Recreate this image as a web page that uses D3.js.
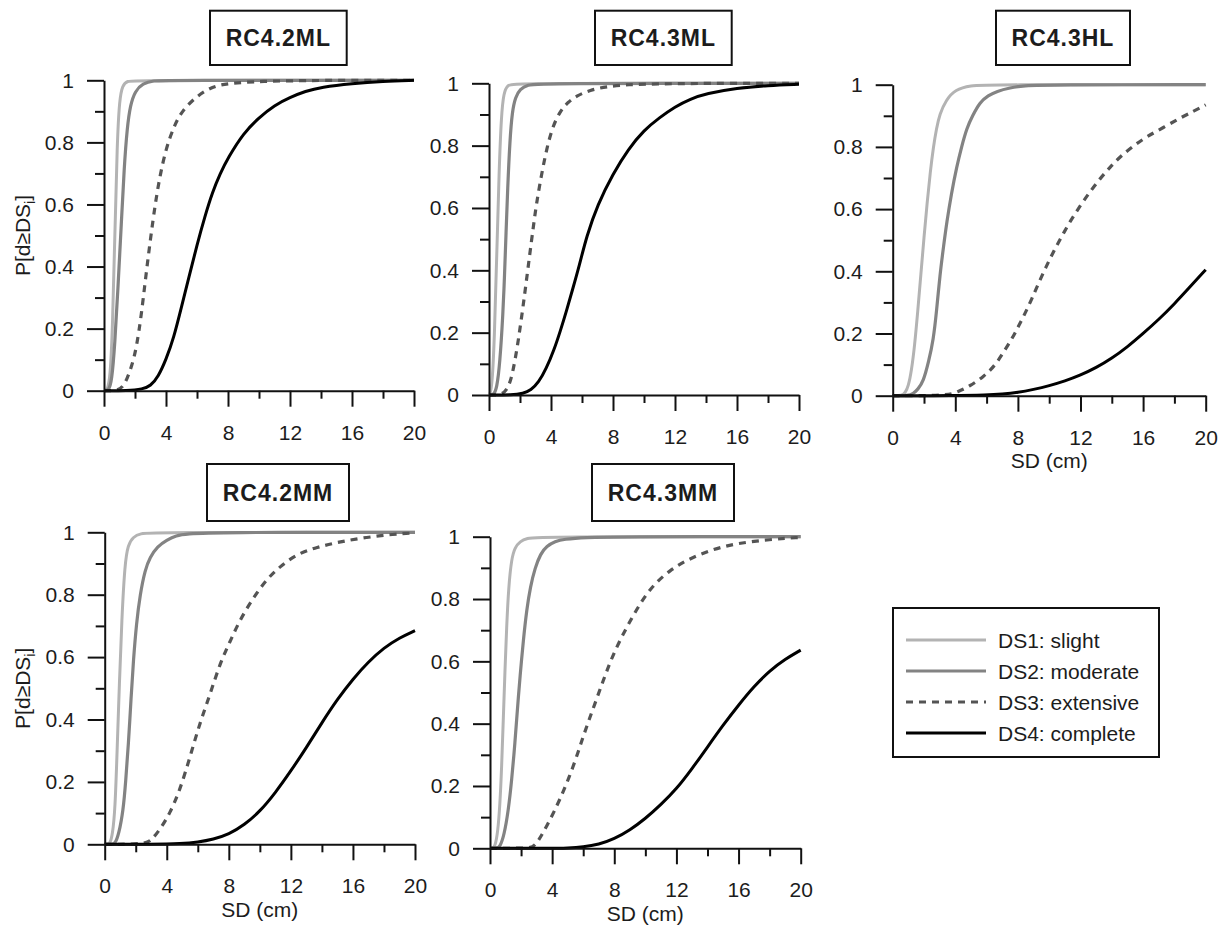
<!DOCTYPE html>
<html>
<head>
<meta charset="utf-8">
<script src="https://cdn.jsdelivr.net/npm/d3@7"></script>
<style>
  html, body { margin: 0; padding: 0; background: #fff; }
  svg { display: block; font-family: "Liberation Sans", Arial, Helvetica, sans-serif; }
</style>
</head>
<body>
<svg id="chart" width="1226" height="929"></svg>
<script>
// ---- Data: fragility curves P[d >= DS_i] versus spectral displacement SD (cm) ----
const panelNames = ["RC4.2ML", "RC4.3ML", "RC4.3HL", "RC4.2MM", "RC4.3MM"];
const seriesNames = ["DS1: slight", "DS2: moderate", "DS3: extensive", "DS4: complete"];

const xMajorTicks = [0, 4, 8, 12, 16, 20];
const xMinorTicks = [2, 6, 10, 14, 18];
const yMajorTicks = [0, 0.2, 0.4, 0.6, 0.8, 1];
const yMinorTicks = [0.1, 0.3, 0.5, 0.7, 0.9];

// [SD (cm), probability] pairs for each damage state
const rc42ML_DS1 = [[0,0],[0.2,0],[0.4,0.04],[0.55,0.2],[0.7,0.5],[0.85,0.8],[1.0,0.94],[1.2,0.985],[1.5,0.998],[2,1],[20,1]];
const rc42ML_DS2 = [[0,0],[0.3,0],[0.5,0.03],[0.7,0.15],[0.9,0.33],[1.1,0.52],[1.3,0.72],[1.5,0.85],[1.7,0.92],[2.0,0.965],[2.5,0.99],[3.2,0.999],[4,1],[20,1]];
const rc42ML_DS3 = [[0,0],[0.8,0],[1.2,0.01],[1.5,0.04],[1.8,0.08],[2.1,0.14],[2.4,0.24],[2.7,0.37],[3.0,0.49],[3.3,0.6],[3.6,0.69],[4.0,0.78],[4.5,0.85],[5,0.9],[6,0.95],[7,0.98],[8,0.99],[10,0.997],[14,1],[20,1]];
const rc42ML_DS4 = [[0,0],[1.5,0],[2.5,0.005],[3,0.015],[3.5,0.045],[4,0.1],[4.5,0.17],[5,0.27],[5.5,0.37],[6,0.47],[6.5,0.56],[7,0.64],[7.5,0.7],[8,0.75],[9,0.83],[10,0.88],[11,0.92],[12,0.945],[13,0.965],[14,0.978],[16,0.99],[18,0.997],[20,1]];

const rc43ML_DS1 = [[0,0],[0.05,0],[0.2,0.03],[0.35,0.18],[0.5,0.45],[0.65,0.72],[0.8,0.9],[0.95,0.97],[1.2,0.995],[1.6,1],[20,1]];
const rc43ML_DS2 = [[0,0],[0.3,0],[0.5,0.02],[0.7,0.1],[0.9,0.26],[1.0,0.38],[1.1,0.52],[1.2,0.66],[1.35,0.82],[1.5,0.91],[1.7,0.955],[2.0,0.982],[2.5,0.995],[3.2,1],[20,1]];
const rc43ML_DS3 = [[0,0],[0.8,0],[1.14,0.016],[1.46,0.05],[1.89,0.17],[2.32,0.33],[2.6,0.44],[2.86,0.54],[3.08,0.62],[3.4,0.71],[3.72,0.79],[4.1,0.86],[4.58,0.91],[5.1,0.94],[5.66,0.96],[6.5,0.978],[7.6,0.99],[9,0.996],[10.6,0.998],[14,1],[20,1]];
const rc43ML_DS4 = [[0,0],[1.5,0],[2.2,0.005],[2.7,0.015],[3.2,0.04],[3.7,0.085],[4.2,0.145],[4.6,0.205],[5.0,0.27],[5.4,0.34],[5.8,0.41],[6.3,0.51],[7,0.61],[8,0.71],[9,0.79],[10,0.85],[11,0.89],[12,0.925],[13,0.95],[14,0.967],[16,0.985],[18,0.993],[20,0.997]];

const rc43HL_DS1 = [[0,0],[0.6,0],[0.8,0.01],[1.0,0.03],[1.2,0.08],[1.4,0.16],[1.6,0.27],[1.8,0.39],[2.0,0.51],[2.2,0.62],[2.4,0.72],[2.6,0.8],[2.8,0.86],[3.0,0.905],[3.4,0.95],[4.0,0.985],[5,0.997],[6,1],[20,1]];
const rc43HL_DS2 = [[0,0],[1.0,0],[1.32,0.007],[1.6,0.02],[1.96,0.045],[2.3,0.11],[2.6,0.18],[2.8,0.27],[3.02,0.39],[3.25,0.48],[3.45,0.556],[3.75,0.65],[4.09,0.736],[4.4,0.8],[4.73,0.86],[5.1,0.9],[5.58,0.944],[6.1,0.965],[6.65,0.979],[7.5,0.99],[8.35,0.997],[10,1],[20,1]];
const rc43HL_DS3 = [[0,0],[3.5,0],[4.13,0.012],[4.9,0.03],[5.79,0.06],[6.54,0.097],[7.07,0.139],[7.6,0.181],[8.03,0.222],[8.45,0.264],[8.88,0.31],[9.3,0.36],[9.78,0.412],[10.26,0.462],[10.8,0.512],[11.33,0.56],[11.97,0.61],[12.61,0.656],[13.25,0.698],[13.89,0.735],[14.52,0.768],[15.37,0.803],[16.23,0.833],[17.29,0.862],[18.36,0.893],[19.21,0.914],[20,0.935]];
const rc43HL_DS4 = [[0,0],[4,0],[6,0.002],[7,0.005],[8,0.01],[9,0.02],[10,0.032],[11,0.047],[12,0.066],[13,0.09],[14,0.12],[15,0.157],[16,0.2],[17,0.245],[18,0.295],[19,0.35],[20,0.405]];

const rc42MM_DS1 = [[0,0],[0.2,0],[0.34,0.003],[0.5,0.03],[0.67,0.11],[0.8,0.3],[0.95,0.52],[1.1,0.72],[1.3,0.9],[1.5,0.96],[1.85,0.986],[2.3,0.996],[3,1],[20,1]];
const rc42MM_DS2 = [[0,0],[0.5,0],[0.67,0.003],[0.9,0.03],[1.2,0.11],[1.35,0.2],[1.53,0.32],[1.7,0.47],[1.85,0.59],[2.05,0.71],[2.28,0.8],[2.6,0.88],[2.92,0.92],[3.4,0.955],[4.0,0.975],[4.6,0.99],[5.3,0.995],[7,1],[20,1]];
const rc42MM_DS3 = [[0,0],[2.6,0],[3.03,0.014],[3.6,0.05],[4.21,0.1],[4.85,0.174],[5.5,0.28],[6.14,0.39],[6.79,0.48],[7.43,0.58],[8.08,0.65],[8.72,0.72],[9.58,0.79],[10.44,0.85],[11.3,0.89],[12.37,0.93],[13.66,0.952],[15.17,0.97],[16.88,0.984],[18.6,0.994],[20,0.998]];
const rc42MM_DS4 = [[0,0],[3,0],[5,0.002],[6,0.007],[7,0.016],[8,0.032],[9,0.062],[10,0.105],[11,0.165],[12,0.235],[13,0.31],[14,0.39],[15,0.465],[16,0.53],[17,0.585],[18,0.63],[19,0.662],[20,0.685]];

const rc43MM_DS1 = [[0,0],[0.15,0],[0.32,0.005],[0.5,0.05],[0.64,0.14],[0.75,0.26],[0.86,0.42],[0.97,0.58],[1.07,0.71],[1.2,0.84],[1.39,0.93],[1.6,0.965],[1.93,0.985],[2.4,0.995],[3,1],[20,1]];
const rc43MM_DS2 = [[0,0],[0.45,0],[0.64,0.005],[0.9,0.04],[1.18,0.12],[1.4,0.22],[1.61,0.34],[1.77,0.45],[1.93,0.55],[2.15,0.67],[2.36,0.765],[2.6,0.84],[2.9,0.9],[3.25,0.945],[3.65,0.97],[4.2,0.985],[4.72,0.992],[6.2,0.998],[8,1],[20,1]];
const rc43MM_DS3 = [[0,0],[2.5,0],[2.9,0.005],[3.65,0.07],[4.5,0.155],[5.36,0.26],[6.0,0.36],[6.65,0.45],[7.3,0.54],[7.94,0.625],[8.8,0.71],[9.66,0.786],[10.5,0.845],[11.6,0.893],[12.66,0.925],[14.16,0.957],[15.88,0.979],[18.0,0.991],[20,0.998]];
const rc43MM_DS4 = [[0,0],[4,0],[5,0.001],[6,0.004],[7,0.012],[8,0.03],[9,0.058],[10,0.095],[11,0.14],[12,0.19],[13,0.255],[14,0.325],[15,0.395],[16,0.46],[17,0.52],[18,0.57],[19,0.607],[20,0.636]];

const panelSeries = [
  [rc42ML_DS1, rc42ML_DS2, rc42ML_DS3, rc42ML_DS4],
  [rc43ML_DS1, rc43ML_DS2, rc43ML_DS3, rc43ML_DS4],
  [rc43HL_DS1, rc43HL_DS2, rc43HL_DS3, rc43HL_DS4],
  [rc42MM_DS1, rc42MM_DS2, rc42MM_DS3, rc42MM_DS4],
  [rc43MM_DS1, rc43MM_DS2, rc43MM_DS3, rc43MM_DS4]
];

// ---- Layout and styles ----
const panelLayout = [
  { x0: 104,   x1: 414,    yTop: 80.3,  yBot: 390.7, box: [210, 10.7, 136.7, 54.3], ylab: true,  xlab: false },
  { x0: 489,   x1: 799,    yTop: 83.3,  yBot: 395,   box: [595, 10.7, 136.7, 54.3], ylab: false, xlab: false },
  { x0: 892.7, x1: 1205.7, yTop: 84.7,  yBot: 395.7, box: [996, 10.7, 134, 54.3],   ylab: false, xlab: true },
  { x0: 104.7, x1: 415,    yTop: 532.3, yBot: 844.3, box: [207, 464, 142, 57],      ylab: true,  xlab: true },
  { x0: 490,   x1: 800.7,  yTop: 536.7, yBot: 848.3, box: [592, 464, 142, 57],      ylab: false, xlab: true }
];

const seriesStyle = [
  { color: "#b3b3b3", width: 3,   dash: null },
  { color: "#838383", width: 3.2, dash: null },
  { color: "#545454", width: 3.2, dash: "7,6" },
  { color: "#000000", width: 3,   dash: null }
];

const textColor = "#1c1c1c";
const svg = d3.select("#chart");

const fmt = d => String(+d.toFixed(1));

panelLayout.forEach((L, i) => {
  const x = d3.scaleLinear().domain([0, 20]).range([L.x0, L.x1]);
  const y = d3.scaleLinear().domain([0, 1]).range([L.yBot, L.yTop]);
  const g = svg.append("g");

  // curves
  const line = d3.line()
    .x(d => x(d[0]))
    .y(d => y(d[1]))
    .curve(d3.curveBasis);

  panelSeries[i].forEach((pts, s) => {
    const st = seriesStyle[s];
    g.append("path")
      .datum(pts)
      .attr("d", line)
      .attr("fill", "none")
      .attr("stroke", st.color)
      .attr("stroke-width", st.width)
      .attr("stroke-dasharray", st.dash)
      .attr("stroke-linejoin", "round");
  });

  // y axis (major + minor)
  g.append("g")
    .attr("transform", `translate(${L.x0},0)`)
    .call(d3.axisLeft(y).tickValues(yMajorTicks).tickSize(17).tickSizeOuter(0).tickPadding(13).tickFormat(fmt));
  g.append("g")
    .attr("transform", `translate(${L.x0},0)`)
    .call(d3.axisLeft(y).tickValues(yMinorTicks).tickSize(9).tickSizeOuter(0).tickFormat(""))
    .select(".domain").remove();

  // x axis (major + minor)
  g.append("g")
    .attr("transform", `translate(0,${L.yBot})`)
    .call(d3.axisBottom(x).tickValues(xMajorTicks).tickSize(16).tickSizeOuter(0).tickPadding(18).tickFormat(d3.format("d")));
  g.append("g")
    .attr("transform", `translate(0,${L.yBot})`)
    .call(d3.axisBottom(x).tickValues(xMinorTicks).tickSize(8).tickSizeOuter(0).tickFormat(""))
    .select(".domain").remove();

  g.selectAll(".domain, .tick line")
    .attr("stroke", "#111")
    .attr("stroke-width", 2);
  g.selectAll(".tick text")
    .attr("fill", textColor)
    .style("font-size", "21px")
    .style("font-family", "'Liberation Sans', Arial, sans-serif");

  // panel title in a box
  const [bx, by, bw, bh] = L.box;
  g.append("rect")
    .attr("x", bx).attr("y", by).attr("width", bw).attr("height", bh)
    .attr("fill", "#fff").attr("stroke", "#111").attr("stroke-width", 2);
  g.append("text")
    .attr("x", bx + bw / 2).attr("y", by + bh / 2)
    .attr("dy", "0.36em")
    .attr("text-anchor", "middle")
    .attr("fill", textColor)
    .style("font-size", "23px")
    .style("font-weight", "bold")
    .style("letter-spacing", "1px")
    .text(panelNames[i]);

  // axis titles
  if (L.xlab) {
    g.append("text")
      .attr("x", (L.x0 + L.x1) / 2).attr("y", L.yBot + 72.5)
      .attr("text-anchor", "middle")
      .attr("fill", textColor)
      .style("font-size", "21px")
      .text("SD (cm)");
  }
  if (L.ylab) {
    const t = g.append("text")
      .attr("transform", `translate(30,${(L.yTop + L.yBot) / 2}) rotate(-90)`)
      .attr("text-anchor", "middle")
      .attr("fill", textColor)
      .style("font-size", "21px");
    t.append("tspan").text("P[d\u2265DS");
    t.append("tspan").attr("dy", 5).style("font-size", "14px").text("i");
    t.append("tspan").attr("dy", -5).text("]");
  }
});

// ---- Legend ----
const legend = svg.append("g");
legend.append("rect")
  .attr("x", 893).attr("y", 608).attr("width", 266).attr("height", 149)
  .attr("fill", "#fff").attr("stroke", "#111").attr("stroke-width", 2);
const rowY = d3.scalePoint().domain(seriesNames).range([640, 733]);
seriesNames.forEach((name, s) => {
  const st = seriesStyle[s];
  legend.append("line")
    .attr("x1", 906).attr("x2", 986)
    .attr("y1", rowY(name)).attr("y2", rowY(name))
    .attr("stroke", st.color)
    .attr("stroke-width", st.width)
    .attr("stroke-dasharray", st.dash);
  legend.append("text")
    .attr("x", 998).attr("y", rowY(name))
    .attr("dy", "0.36em")
    .attr("fill", textColor)
    .style("font-size", "21px")
    .text(name);
});
</script>
</body>
</html>
